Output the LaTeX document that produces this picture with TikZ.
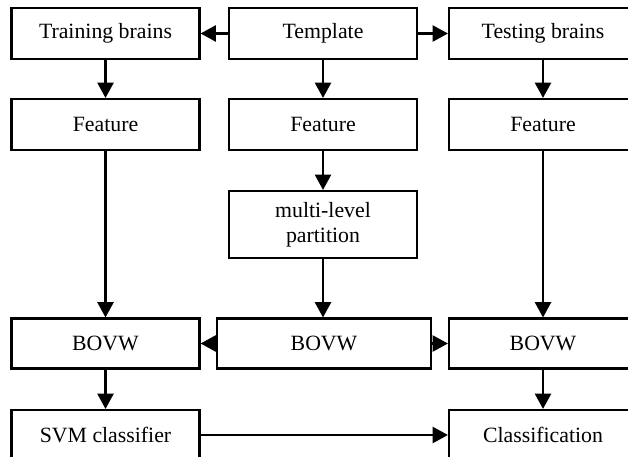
\documentclass[tikz,border=0pt]{standalone}
\usepackage{fontspec}
\setmainfont{Liberation Serif}
\usetikzlibrary{arrows.meta}

\begin{document}
\begin{tikzpicture}[x=0.025cm, y=-0.025cm,
	box/.style={draw=black, line width=1.5pt, rectangle, inner sep=0pt, align=center,
		minimum width=4.7cm, minimum height=1.275cm, font=\fontsize{15.5}{17.8}\selectfont},
	arr/.style={line width=1.5pt, -{Triangle[length=0.38cm, width=0.4cm]}}]

	\clip (0,0) rectangle (628,457);

	% row 1
	\node[box] (train) at (105.5,33.5) {Training brains};
	\node[box] (tmpl)  at (323,33.5)   {Template};
	\node[box] (test)  at (543,33.5)   {Testing brains};

	% features
	\node[box] (featA) at (105.5,124.5) {Feature};
	\node[box] (featB) at (323,124.5)   {Feature};
	\node[box] (featC) at (543,124.5)   {Feature};

	\node[box, minimum height=1.675cm] (part) at (323,224.5) {multi-level\\partition};

	% bovw
	\node[box, minimum height=1.25cm] (bovwA) at (105.5,343.5) {BOVW};
	\node[box, minimum height=1.25cm, minimum width=5.35cm] (bovwB) at (324,343.5) {BOVW};
	\node[box, minimum height=1.25cm] (bovwC) at (543,343.5) {BOVW};

	\node[box, minimum height=1.25cm] (svm) at (105.5,435) {SVM classifier};
	\node[box, minimum height=1.25cm] (cls) at (543,435)   {Classification};

	\draw[arr] (tmpl) -- (train);
	\draw[arr] (tmpl) -- (test);
	\draw[arr] (train) -- (featA);
	\draw[arr] (tmpl) -- (featB);
	\draw[arr] (test) -- (featC);
	\draw[arr] (featB) -- (part);
	\draw[arr] (featA) -- (bovwA);
	\draw[arr] (part) -- (part |- bovwB.north);
	\draw[arr] (featC) -- (bovwC);
	\draw[arr] (bovwB) -- (bovwA);
	\draw[arr] (bovwB) -- (bovwC);
	\draw[arr] (bovwA) -- (svm);
	\draw[arr] (bovwC) -- (cls);
	\draw[arr] (svm) -- (cls);

\end{tikzpicture}
\end{document}
